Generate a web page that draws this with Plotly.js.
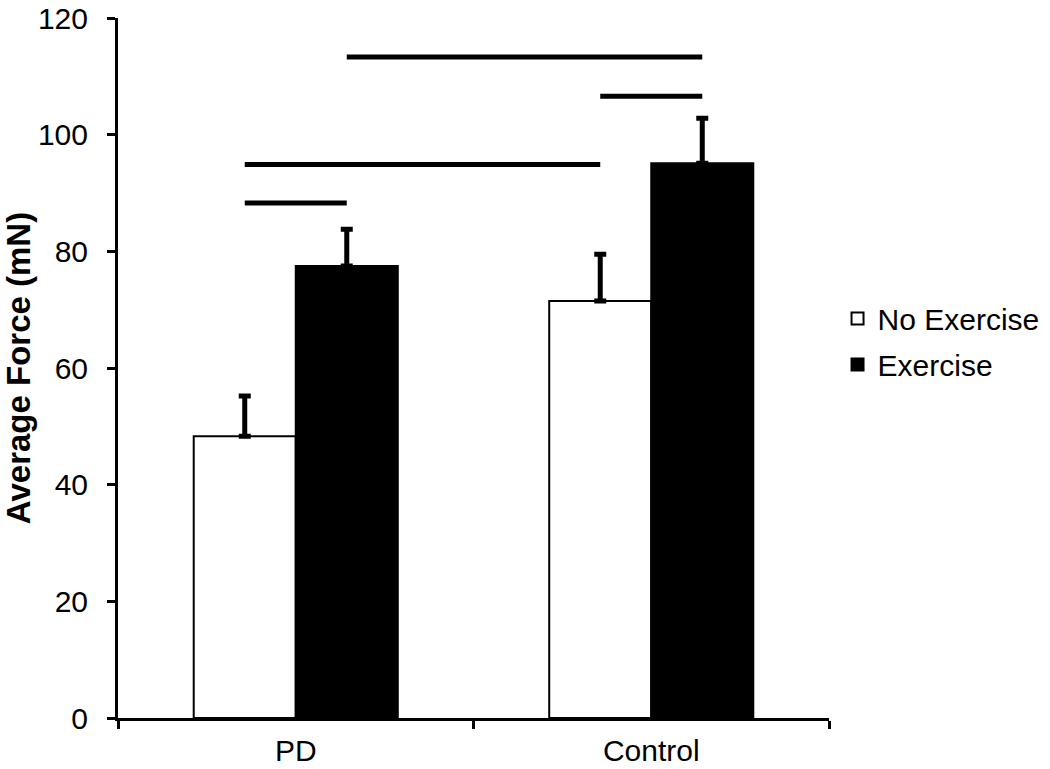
<!DOCTYPE html>
<html>
<head>
<meta charset="utf-8">
<script src="https://cdn.plot.ly/plotly-3.0.1.min.js"></script>
<style>html,body{margin:0;padding:0;background:#fff;}#chart{width:1050px;height:769px;}</style>
</head>
<body>
<div id="chart"></div>
<script>
// ---- data ----
const categories = ["PD", "Control"];
const seriesNames = ["No Exercise", "Exercise"];
const noExercise = [48.3, 71.5];
const noExerciseErr = [6.9, 8.0];
const exercise = [77.5, 95.1];
const exerciseErr = [6.3, 7.7];
// significance bars: bar index (0 PD-NoEx, 1 PD-Ex, 2 Ctrl-NoEx, 3 Ctrl-Ex)
const sigFrom = [0, 0, 3, 1];
const sigTo = [1, 2, 2, 3];
const sigLevel = [88.3, 94.9, 106.6, 113.3];
const yTicks = [0, 20, 40, 60, 80, 100, 120];

// ---- layout params ----
const bargap = 0.426;
const barFrac = (1 - bargap) / 2;
function barCenter(i) {
  const cat = Math.floor(i / 2);
  const side = i % 2 === 0 ? -1 : 1;
  return cat + side * barFrac / 2;
}

const FONT = "Liberation Sans, Arial, sans-serif";
const traces = [
  {
    type: "bar", name: seriesNames[0], x: categories, y: noExercise,
    marker: {color: "#ffffff", line: {color: "#000000", width: 2}},
    error_y: {type: "data", array: noExerciseErr, arrayminus: noExerciseErr.map(() => 0), symmetric: false, color: "#000", thickness: 5, width: 6},
    legendgroup: "a"
  },
  {
    type: "bar", name: seriesNames[1], x: categories, y: exercise,
    marker: {color: "#000000", line: {color: "#000000", width: 2}},
    error_y: {type: "data", array: exerciseErr, arrayminus: exerciseErr.map(() => 0), symmetric: false, color: "#000", thickness: 5, width: 6},
    legendgroup: "b"
  }
];
for (let k = 0; k < sigLevel.length; k++) {
  traces.push({
    type: "scatter", mode: "lines", xaxis: "x2", yaxis: "y",
    x: [barCenter(sigFrom[k]), barCenter(sigTo[k])],
    y: [sigLevel[k], sigLevel[k]],
    line: {color: "#000", width: 5}, showlegend: false, hoverinfo: "skip"
  });
}

const layout = {
  width: 1050, height: 769,
  margin: {l: 118, r: 221, t: 18, b: 51, autoexpand: false},
  paper_bgcolor: "#fff", plot_bgcolor: "#fff",
  font: {family: FONT, size: 30, color: "#000"},
  barmode: "group", bargap: bargap, bargroupgap: 0,
  showlegend: true,
  legend: {x: 1.012, xanchor: "left", y: 0.538, yanchor: "middle",
           font: {family: FONT, size: 30, color: "#000"},
           traceorder: "grouped", tracegroupgap: 4, bgcolor: "rgba(0,0,0,0)"},
  xaxis: {
    type: "category", range: [-0.5, 1.5], tickson: "boundaries",
    showline: true, linecolor: "#000", linewidth: 3,
    ticks: "outside", ticklen: 8, tickwidth: 3, tickcolor: "#000",
    ticklabelstandoff: 4,
    showgrid: false, zeroline: false, fixedrange: true,
    tickfont: {family: FONT, size: 30, color: "#000"}
  },
  xaxis2: {overlaying: "x", range: [-0.5, 1.5], visible: false, fixedrange: true},
  yaxis: {
    range: [0, 120], tickvals: yTicks, ticktext: yTicks.map(String),
    showline: true, linecolor: "#000", linewidth: 3,
    ticks: "outside", ticklen: 8, tickwidth: 3, tickcolor: "#000",
    ticklabelstandoff: 13,
    showgrid: false, zeroline: false, fixedrange: true,
    tickfont: {family: FONT, size: 30, color: "#000"},
    title: {text: "<b>Average Force (mN)</b>", font: {family: FONT, size: 33, color: "#000"}, standoff: 6}
  }
};
Plotly.newPlot("chart", traces, layout, {displayModeBar: false, staticPlot: true});
</script>
</body>
</html>
